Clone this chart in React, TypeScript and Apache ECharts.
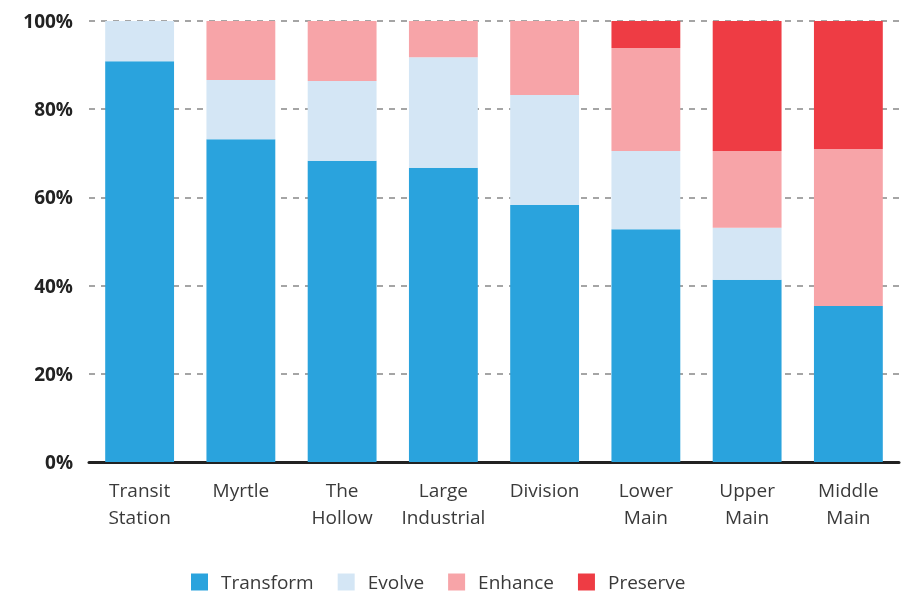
import React, { useEffect, useRef } from "react";
import * as echarts from "echarts";

const categories = ["Transit\nStation", "Myrtle", "The\nHollow", "Large\nIndustrial", "Division", "Lower\nMain", "Upper\nMain", "Middle\nMain"];
const transform = [90.9, 73.2, 68.3, 66.7, 58.3, 52.8, 41.3, 35.4];
const evolve = [9.1, 13.4, 18.1, 25.1, 24.9, 17.7, 11.8, 0];
const enhance = [0, 13.4, 13.6, 8.2, 16.8, 23.4, 17.4, 35.6];
const preserve = [0, 0, 0, 0, 0, 6.1, 29.5, 29.0];
const seriesNames = ["Transform", "Evolve", "Enhance", "Preserve"];
const colors = ["#2aa3dd", "#d4e6f5", "#f7a4a8", "#ee3c44"];

export default function App() {
  const ref = useRef<HTMLDivElement>(null);
  useEffect(() => {
    const chart = echarts.init(ref.current!, null, { renderer: "svg" });
    const data = [transform, evolve, enhance, preserve];
    chart.setOption({
      animation: false,
      grid: { left: 89, right: 6, top: 21, bottom: 134 },
      legend: {
        top: 567,
        left: 186,
        itemWidth: 17,
        itemHeight: 17,
        itemGap: 24,
        icon: "rect",
        textStyle: { fontFamily: "Open Sans", fontSize: 19, lineHeight: 20, color: "#3a3a3a", padding: [0, 0, 0, 8] },
        data: seriesNames,
      },
      xAxis: {
        type: "category",
        data: categories,
        axisLine: { lineStyle: { color: "#222", width: 3 } },
        axisTick: { show: false },
        axisLabel: { interval: 0, fontFamily: "Open Sans", fontSize: 19, color: "#3a3a3a", lineHeight: 27, margin: 14 },
      },
      yAxis: {
        type: "value",
        min: 0,
        max: 100,
        interval: 20,
        axisLabel: {
          formatter: "{value}%",
          fontFamily: "Open Sans",
          fontWeight: "bold",
          fontSize: 19,
          color: "#222",
          margin: 16,
        },
        splitLine: { lineStyle: { color: "#888", type: [6, 6], width: 1.5 } },
      },
      series: seriesNames.map((n, i) => ({
        name: n,
        type: "bar",
        stack: "total",
        barWidth: "68%",
        itemStyle: { color: colors[i] },
        data: data[i],
      })),
    });
    return () => chart.dispose();
  }, []);
  return <div ref={ref} style={{ position: "fixed", left: 0, top: 0, width: 905, height: 596 }} />;
}
